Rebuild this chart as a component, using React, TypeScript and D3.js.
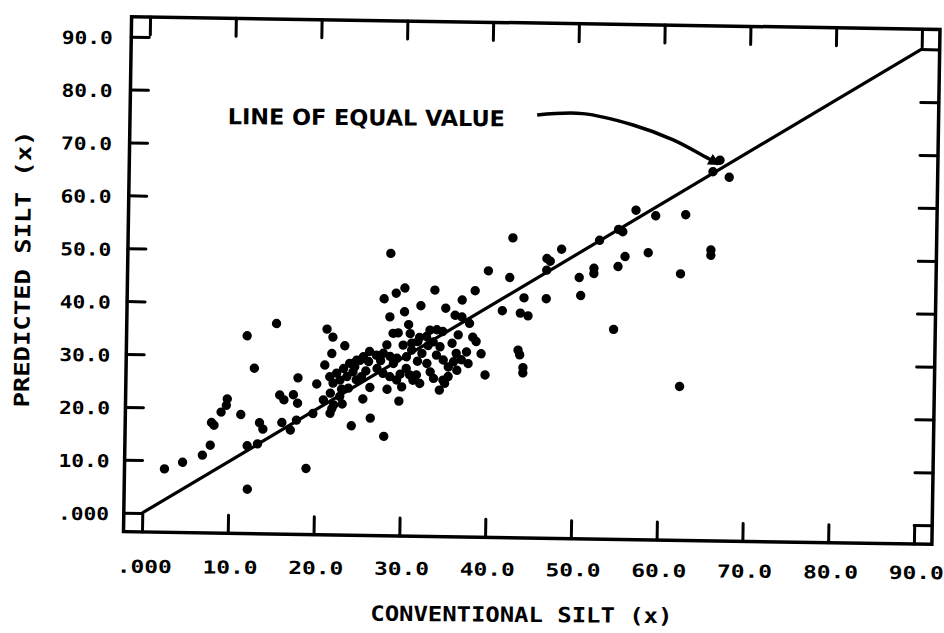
import React, { useEffect, useRef } from "react";
import * as d3 from "d3";

// conventional silt (%)
const conventionalSilt = [
  2.5, 4.6, 6.9, 7.8, 7.9, 8.2, 9.0, 9.7, 9.6, 11.3, 11.9, 12.8, 12.2, 12.1, 13.3, 13.5, 13.9,
  15.3, 15.8, 16.3, 17.4, 17.9, 17.9, 16.1, 17.1, 19.0, 20.1, 21.2, 21.9, 21.8, 21.0, 23.3, 24.2,
  23.1, 21.9, 21.7, 20.9, 28.5, 42.7, 39.9, 42.4, 27.8, 29.2, 30.2, 33.7, 32.1, 38.4, 36.9, 35.0,
  28.5, 30.2, 41.6, 36.1, 36.9, 37.8, 30.7, 38.2, 38.6, 39.2, 39.7, 34.4, 29.7, 26.4, 28.0, 25.5,
  28.3, 26.3, 34.8, 28.9, 29.5, 30.9, 31.1, 33.2, 34.0, 34.7, 32.8, 33.6, 34.4, 31.8, 30.1, 31.1,
  30.5, 26.2, 27.0, 27.8, 28.6, 29.4, 25.5, 26.1, 24.7, 23.9, 23.2, 22.4, 21.6, 24.3, 23.6, 22.8,
  22.0, 27.1, 27.8, 28.6, 29.4, 30.5, 30.9, 31.3, 32.1, 32.9, 33.3, 33.7, 35.0, 34.8, 35.4, 36.0,
  36.3, 36.9, 37.5, 37.7, 30.0, 31.7, 29.0, 32.3, 34.0, 35.4, 36.4, 28.2, 36.5, 21.7, 22.1, 22.8,
  23.8, 24.5, 25.1, 24.7, 25.3, 19.7, 17.8, 66.7, 65.9, 67.8, 57.0, 59.3, 62.8, 55.5, 55.0, 52.8,
  48.4, 46.7, 47.1, 46.7, 58.5, 55.8, 55.0, 52.2, 52.2, 50.5, 50.7, 65.8, 65.8, 62.3, 44.1, 46.7,
  43.7, 44.6, 54.6, 43.5, 43.7, 44.1, 44.1, 62.4, 32.0, 33.0, 27.5, 25.8, 31.8, 29.8, 35.8, 23.0,
];

// predicted silt (%) for the same samples
const predictedSilt = [
  8.4, 9.7, 11.1, 13.0, 17.3, 16.8, 19.3, 21.8, 20.6, 18.9, 33.8, 27.7, 4.8, 13.0, 13.4, 17.4, 16.2,
  36.2, 22.7, 21.8, 22.8, 26.0, 21.2, 17.5, 16.1, 8.9, 24.9, 35.3, 33.8, 30.7, 28.5, 32.2, 17.1,
  21.2, 20.3, 19.4, 21.9, 49.8, 53.1, 46.8, 45.6, 41.2, 42.3, 43.3, 43.0, 40.0, 43.0, 41.2, 39.6,
  37.8, 38.8, 39.3, 38.3, 38.0, 36.8, 36.4, 34.2, 33.4, 31.1, 27.1, 24.1, 21.9, 18.6, 15.2, 22.2,
  24.1, 24.4, 26.0, 34.7, 34.8, 34.7, 32.9, 35.4, 35.5, 35.2, 34.2, 33.2, 32.3, 33.2, 32.5, 31.6,
  30.3, 31.2, 30.5, 30.9, 30.3, 30.0, 30.2, 29.3, 29.5, 28.9, 27.9, 27.0, 26.3, 27.3, 26.4, 25.7,
  25.1, 28.0, 27.1, 26.5, 25.9, 28.1, 26.9, 25.9, 25.3, 29.1, 27.5, 26.3, 25.4, 29.8, 28.5, 29.5,
  31.1, 29.9, 31.4, 29.2, 24.6, 26.9, 29.0, 31.0, 30.7, 26.7, 27.9, 32.5, 34.6, 23.2, 21.0, 22.6,
  24.2, 28.3, 29.5, 25.8, 26.4, 19.3, 18.0, 68.4, 66.2, 65.2, 58.7, 57.7, 58.0, 54.6, 55.0, 52.9,
  51.1, 49.3, 48.8, 47.1, 50.7, 49.9, 48.0, 47.6, 46.6, 45.8, 42.4, 51.4, 50.4, 46.8, 41.8, 41.7,
  38.9, 38.4, 36.1, 31.9, 31.0, 28.6, 27.6, 25.5, 34.0, 32.5, 29.5, 27.5, 29.5, 27.0, 33.0, 24.0,
];

const tickValues = [0, 10, 20, 30, 40, 50, 60, 70, 80, 90];
const equalLine = [0, 90];
const arrowX = [45.3, 50.6, 56.5, 61.2, 65.2, 66.5];
const arrowY = [76.4, 76.8, 74.8, 72.1, 68.8, 67.7];
const noteText = "LINE OF EQUAL VALUE";
const noteAt = [9.4, 74.2];

const fmt = (v: number) => (v === 0 ? ".000" : v.toFixed(1));
const FONT = "'DejaVu Sans Mono', monospace";

export default function App() {
  const ref = useRef<SVGSVGElement>(null);

  useEffect(() => {
    const svg = d3.select(ref.current);
    svg.selectAll("*").remove();

    const frame = { left: 127.5, right: 936, top: 23, bottom: 538 };
    const x = d3.scaleLinear().domain([0, 90]).range([146, 918]);
    const y = d3.scaleLinear().domain([0, 90]).range([519, 43]);

    // the scan is a little tilted
    const plot = svg.append("g").attr("transform", "rotate(0.9, 530, 280)");
    const labels = svg.append("g").attr("transform", "rotate(0.45, 530, 280)");

    plot.append("rect")
      .attr("x", frame.left)
      .attr("y", frame.top)
      .attr("width", frame.right - frame.left)
      .attr("height", frame.bottom - frame.top)
      .attr("fill", "none")
      .attr("stroke", "#000")
      .attr("stroke-width", 3.5);

    const tickLen = -18;
    const axes: [any, number, boolean][] = [
      [d3.axisBottom(x), frame.bottom, true],
      [d3.axisTop(x), frame.top, true],
      [d3.axisLeft(y), frame.left, false],
      [d3.axisRight(y), frame.right, false],
    ];
    axes.forEach(([ax, pos, horiz]) => {
      const g = plot.append("g")
        .attr("transform", horiz ? `translate(0,${pos})` : `translate(${pos},0)`)
        .call(ax.tickValues(tickValues).tickSizeInner(tickLen).tickSizeOuter(0).tickFormat(() => ""));
      g.select(".domain").remove();
      g.selectAll("line").attr("stroke", "#000").attr("stroke-width", 3).attr("stroke-linecap", "round");
    });

    // line of equal value
    plot.append("path")
      .attr("d", d3.line<number>().x(d => x(d)).y(d => y(d))(equalLine))
      .attr("fill", "none")
      .attr("stroke", "#000")
      .attr("stroke-width", 3.2);

    plot.append("g")
      .selectAll("circle")
      .data(conventionalSilt.map((c, i) => [c, predictedSilt[i]]))
      .enter().append("circle")
      .attr("cx", d => x(d[0]))
      .attr("cy", d => y(d[1]))
      .attr("r", 4.7)
      .attr("fill", "#000");

    // annotation arrow
    svg.append("defs").append("marker")
      .attr("id", "head")
      .attr("viewBox", "0 0 10 10")
      .attr("refX", 8)
      .attr("refY", 5)
      .attr("markerUnits", "userSpaceOnUse")
      .attr("markerWidth", 14)
      .attr("markerHeight", 12)
      .attr("orient", "auto")
      .append("path")
      .attr("d", "M0,0 L10,5 L0,10 z")
      .attr("fill", "#000");

    plot.append("path")
      .attr("d", d3.line<number>()
        .x(d => x(arrowX[d]))
        .y(d => y(arrowY[d]))
        .curve(d3.curveCatmullRom)(arrowX.map((_, i) => i)))
      .attr("fill", "none")
      .attr("stroke", "#000")
      .attr("stroke-width", 3.5)
      .attr("marker-end", "url(#head)");

    labels.append("text")
      .attr("x", x(noteAt[0]))
      .attr("y", y(noteAt[1]))
      .attr("font-family", "'DejaVu Sans', sans-serif")
      .attr("font-weight", "bold")
      .attr("font-size", 22)
      .attr("textLength", 277)
      .attr("lengthAdjust", "spacingAndGlyphs")
      .text(noteText);

    // tick labels
    const gx = labels.append("g")
      .attr("transform", "translate(0,576)")
      .call(d3.axisBottom(x).tickValues(tickValues).tickSize(0).tickFormat(d => fmt(+d)));
    gx.select(".domain").remove();
    gx.selectAll("text")
      .attr("y", 0)
      .attr("dy", 0)
      .attr("fill", "#000")
      .attr("font-family", FONT)
      .attr("font-weight", "bold")
      .attr("font-size", 18)
      .attr("textLength", 55)
      .attr("lengthAdjust", "spacingAndGlyphs");

    const gy = labels.append("g")
      .attr("transform", "translate(111,-2.5)")
      .call(d3.axisLeft(y).tickValues(tickValues).tickSize(0).tickFormat(d => fmt(+d)));
    gy.select(".domain").remove();
    gy.selectAll("text")
      .attr("x", 0)
      .attr("dy", "0.36em")
      .attr("fill", "#000")
      .attr("font-family", FONT)
      .attr("font-weight", "bold")
      .attr("font-size", 18)
      .attr("textLength", 51)
      .attr("lengthAdjust", "spacingAndGlyphs");

    // axis titles
    labels.append("text")
      .attr("x", 524)
      .attr("y", 622)
      .attr("text-anchor", "middle")
      .attr("font-family", FONT)
      .attr("font-weight", "bold")
      .attr("font-size", 21)
      .attr("textLength", 302)
      .attr("lengthAdjust", "spacingAndGlyphs")
      .text("CONVENTIONAL SILT (x)");

    labels.append("text")
      .attr("transform", "translate(30,273) rotate(-90)")
      .attr("text-anchor", "middle")
      .attr("font-family", FONT)
      .attr("font-weight", "bold")
      .attr("font-size", 21)
      .attr("textLength", 277)
      .attr("lengthAdjust", "spacingAndGlyphs")
      .text("PREDICTED SILT (x)");
  }, []);

  return (
    <svg
      ref={ref}
      width={944}
      height={633}
      style={{ position: "absolute", left: 0, top: 0, background: "#fff" }}
    />
  );
}
